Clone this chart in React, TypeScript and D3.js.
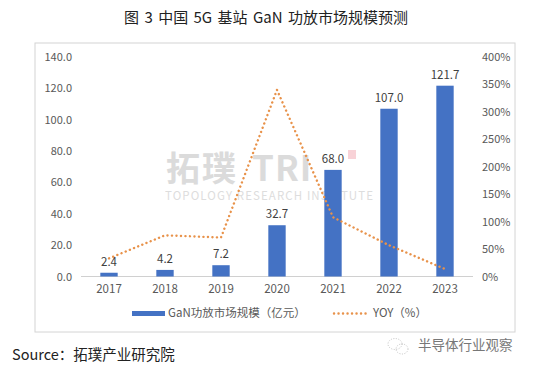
import * as React from 'react';
import { scaleBand, scaleLinear, line, range } from 'd3';

const years = ['2017', '2018', '2019', '2020', '2021', '2022', '2023'];
const marketSize = [2.4, 4.2, 7.2, 32.7, 68.0, 107.0, 121.7];
const yoy = [0.33, 0.75, 0.71, 3.4, 1.08, 0.57, 0.137];
const leftTicks = range(0, 141, 20);
const rightTicks = range(0, 4.01, 0.5);

const font = '"Noto Sans CJK SC", "Noto Sans", sans-serif';

const App = () => {
    const plot = { left: 81, right: 473, top: 57, bottom: 276.5 };

    const x = scaleBand().domain(years).range([plot.left, plot.right]).paddingInner(0.69).paddingOuter(0.345);
    const yLeft = scaleLinear().domain([0, 140]).range([plot.bottom, plot.top]);
    const yRight = scaleLinear().domain([0, 4]).range([plot.bottom, plot.top]);
    const cx = (d: string) => (x(d) || 0) + x.bandwidth() / 2;

    const yoyLine = line<number>()
        .x((d, i) => cx(years[i]))
        .y((d) => yRight(d));

    return (
        <svg width={540} height={370} style={{ position: 'absolute', left: 0, top: 0, background: '#fff' }} fontFamily={font} fontWeight={400}>
            <text x={266} y={23} textAnchor="middle" fontSize={15} fill="#222" fontWeight={400} wordSpacing={2}>图 3 中国 5G 基站 GaN 功放市场规模预测</text>

            <rect x={35} y={43} width={480} height={289} fill="none" stroke="#d4d4d4" strokeWidth={1} />

            {/* watermark */}
            <g opacity={0.5}>
                <text x={166} y={181} fontSize={34} fontWeight={700} fill="#b8b8b8" letterSpacing={2}>拓璞</text>
                <text x={252} y={181} fontSize={35} fontWeight={700} fill="#b8b8b8" letterSpacing={1}>TRI</text>
                <rect x={348} y={150} width={8} height={9} fill="#f2a6b0" />
                <text x={165} y={200} fontSize={11.5} fill="#bdbdbd" textLength={208}>TOPOLOGY RESEARCH INSTITUTE</text>
            </g>

            {leftTicks.map((t) => (
                <text key={t} x={72} y={yLeft(t) + 4} textAnchor="end" fontSize={11} fill="#595959">{t.toFixed(1)}</text>
            ))}
            {rightTicks.map((t) => (
                <text key={t} x={482} y={yRight(t) + 4} fontSize={11} fill="#595959">{Math.round(t * 100)}%</text>
            ))}

            <line x1={plot.left} x2={plot.right} y1={plot.bottom} y2={plot.bottom} stroke="#d0d0d0" />

            {years.map((yr, i) => (
                <g key={yr}>
                    <rect x={x(yr)} width={x.bandwidth()} y={yLeft(marketSize[i])} height={plot.bottom - yLeft(marketSize[i])} fill="#4472c4" />
                    <text x={cx(yr)} y={289} dy={4} textAnchor="middle" fontSize={11.5} fill="#595959">{yr}</text>
                </g>
            ))}

            <path d={yoyLine(yoy) || ''} fill="none" stroke="#e8924a" strokeWidth={2.4} strokeDasharray="0.1 4.4" strokeLinecap="round" />

            {years.map((yr, i) => (
                <text key={yr} x={cx(yr)} y={yLeft(marketSize[i]) - 7} textAnchor="middle" fontSize={11.5} fill="#404040">{marketSize[i].toFixed(1)}</text>
            ))}

            {/* legend */}
            <rect x={132} y={311} width={33} height={5} fill="#4472c4" />
            <text x={168} y={317} fontSize={11.5} fill="#595959">GaN功放市场规模（亿元）</text>
            <line x1={334} x2={366} y1={313.5} y2={313.5} stroke="#e8924a" strokeWidth={2.4} strokeDasharray="0.1 4.4" strokeLinecap="round" />
            <text x={373} y={317} fontSize={11.5} fill="#595959">YOY（%）</text>

            <text x={12} y={360} fontSize={14.5} fill="#222" fontWeight={400}>Source：拓璞产业研究院</text>

            {/* wechat mark */}
            <g fill="none" stroke="#bbb" strokeWidth={0.9} strokeDasharray="1 1.5">
                <ellipse cx={395} cy={344} rx={7} ry={5.5} />
                <ellipse cx={402} cy={349} rx={6} ry={5} />
            </g>
            <text x={418} y={350} fontSize={13.5} fill="#777">半导体行业观察</text>
        </svg>
    );
};

export default App;
